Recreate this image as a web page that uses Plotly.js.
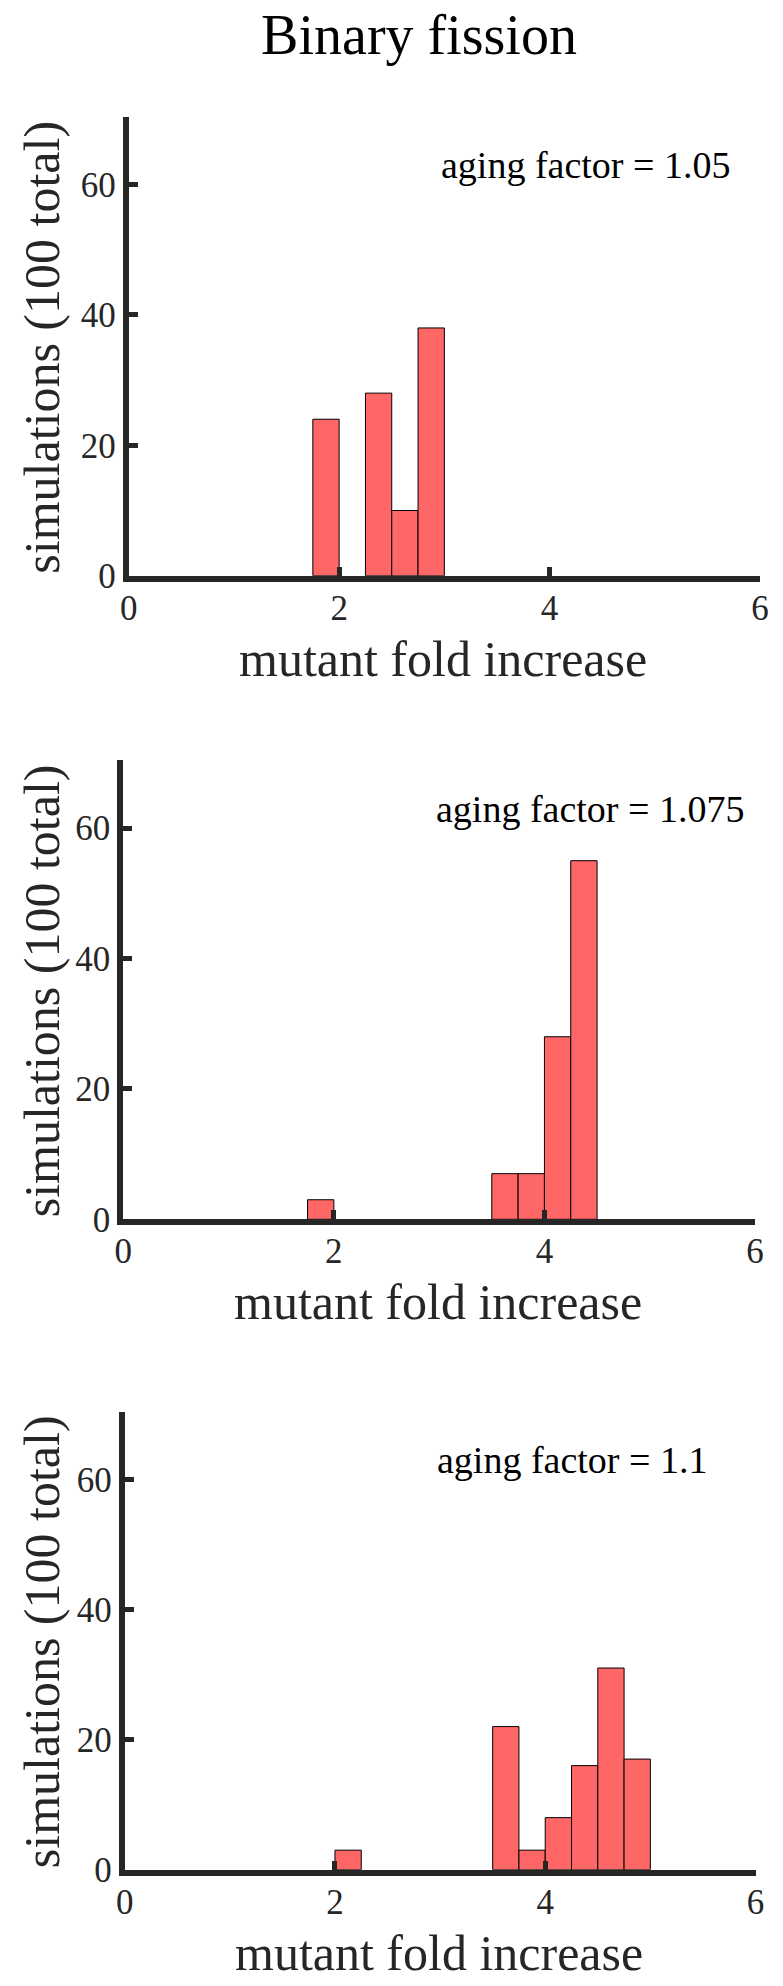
<!DOCTYPE html>
<html><head><meta charset="utf-8">
<script src="https://cdn.plot.ly/plotly-3.0.1.min.js"></script>
<style>html,body{margin:0;padding:0;background:#fff}</style>
</head><body><div id="chart" style="width:783px;height:1986px"></div>
<script>
// ---- data ----
const figTitle = 'Binary fission';
const xTitle = 'mutant fold increase';
const yTitle = 'simulations (100 total)';
const xTickVals = [0, 2, 4, 6];
const xTickText = ['0', '2', '4', '6'];
const yTickVals = [0, 20, 40, 60];
const yTickText = ['0', '20', '40', '60'];
const binWidth = 0.25;
const p1BinCenters = [1.875, 2.375, 2.625, 2.875];
const p1Counts = [24, 28, 10, 38];
const p2BinCenters = [1.875, 3.625, 3.875, 4.125, 4.375];
const p2Counts = [3, 7, 7, 28, 55];
const p3BinCenters = [2.125, 3.625, 3.875, 4.125, 4.375, 4.625, 4.875];
const p3Counts = [3, 22, 3, 8, 16, 31, 17];
const agingFactors = ['1.05', '1.075', '1.1'];

// ---- geometry (px) ----
const W = 783, H = 1986, LW = 6;
const panels = [
  {l: 125.7, r: 760, b: 578.7, t: 116.7},
  {l: 120.3, r: 755, b: 1222.3, t: 760.3},
  {l: 121.7, r: 755.5, b: 1872.7, t: 1411.7}
];
const series = [
  {x: p1BinCenters, y: p1Counts},
  {x: p2BinCenters, y: p2Counts},
  {x: p3BinCenters, y: p3Counts}
];
const FONT = 'Liberation Serif, Times New Roman, serif';
const AX = '#262626';

const data = [];
const layout = {
  width: W, height: H,
  margin: {l: 0, r: 0, t: 0, b: 0},
  paper_bgcolor: '#fff', plot_bgcolor: '#fff',
  showlegend: false,
  title: {
    text: figTitle, font: {family: FONT, size: 56, color: '#000'},
    x: 419 / W, xanchor: 'center', xref: 'paper',
    y: 1 - 34 / H, yanchor: 'middle', yref: 'container'
  },
  annotations: []
};

panels.forEach((p, i) => {
  const sfx = i === 0 ? '' : String(i + 1);
  data.push({
    type: 'bar', x: series[i].x, y: series[i].y, width: binWidth,
    xaxis: 'x' + sfx, yaxis: 'y' + sfx,
    marker: {color: '#FF6666', line: {color: '#000', width: 1}},
    hoverinfo: 'x+y'
  });
  const common = {
    showline: true, linecolor: AX, linewidth: LW,
    ticks: 'inside', tickcolor: AX, tickwidth: 5, ticklen: 9,
    showgrid: false, zeroline: false, tickmode: 'array',
    tickfont: {family: FONT, size: 35, color: AX},
    fixedrange: true
  };
  layout['xaxis' + sfx] = Object.assign({}, common, {
    domain: [(p.l + LW / 2) / W, p.r / W],
    range: [0, 6], tickvals: xTickVals, ticktext: xTickText,
    ticklabelstandoff: -4,
    anchor: 'y' + sfx
  });
  layout['yaxis' + sfx] = Object.assign({}, common, {
    domain: [1 - (p.b - LW / 2) / H, 1 - p.t / H],
    range: [0, 70.4], tickvals: yTickVals, ticktext: yTickText,
    anchor: 'x' + sfx
  });
  layout.annotations.push({
    text: yTitle, textangle: -90, showarrow: false,
    xref: 'paper', yref: 'paper',
    x: 42 / W, y: 1 - ((p.t + p.b) / 2) / H,
    xanchor: 'center', yanchor: 'middle',
    font: {family: FONT, size: 50, color: AX}
  });
  layout.annotations.push({
    text: xTitle, showarrow: false,
    xref: 'paper', yref: 'paper',
    x: ((p.l + p.r) / 2) / W, y: 1 - (p.b + 80) / H,
    xanchor: 'center', yanchor: 'middle',
    font: {family: FONT, size: 50, color: AX}
  });
  layout.annotations.push({
    text: 'aging factor = ' + agingFactors[i], showarrow: false,
    xref: 'x' + sfx, yref: 'y' + sfx,
    x: 2.95, y: 63, xanchor: 'left', yanchor: 'middle',
    font: {family: FONT, size: 38, color: '#000'}
  });
});

Plotly.newPlot('chart', data, layout, {displayModeBar: false, staticPlot: true});
</script>
</body></html>
